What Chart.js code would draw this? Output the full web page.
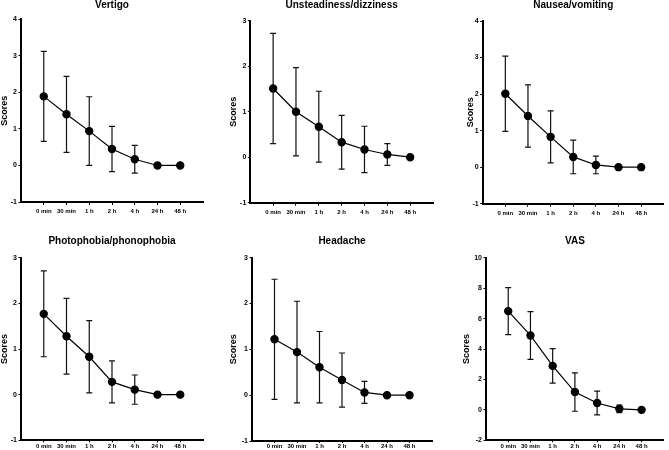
<!DOCTYPE html>
<html lang="en">
<head>
    <meta charset="UTF-8">
    <title>Symptom scores over time</title>
    <style>
        body { margin: 0; background: #fff; }
        #wrap { position: relative; width: 669px; height: 450px; overflow: hidden; background: #fff; }
        canvas { position: absolute; }
    </style>
    <script src="https://cdn.jsdelivr.net/npm/chart.js"></script>
</head>
<body>
<div id="wrap">
    <canvas id="c1"></canvas>
    <canvas id="c2"></canvas>
    <canvas id="c3"></canvas>
    <canvas id="c4"></canvas>
    <canvas id="c5"></canvas>
    <canvas id="c6"></canvas>
</div>

<script>
    // time points on the x axis
    const timeLabels = ['0 min', '30 min', '1 h', '2 h', '4 h', '24 h', '48 h'];

    // mean scores and SD
    const vertigoMean = [1.89, 1.40, 0.94, 0.45, 0.17, 0, 0];
    const vertigoSD = [1.23, 1.04, 0.94, 0.62, 0.38, 0, 0];

    const unsteadyMean = [1.51, 1.00, 0.67, 0.33, 0.17, 0.06, 0];
    const unsteadySD = [1.21, 0.97, 0.78, 0.59, 0.51, 0.24, 0];

    const nauseaMean = [2.01, 1.40, 0.83, 0.28, 0.06, 0, 0];
    const nauseaSD = [1.03, 0.85, 0.71, 0.46, 0.24, 0, 0];

    const photoMean = [1.77, 1.28, 0.83, 0.28, 0.11, 0, 0];
    const photoSD = [0.94, 0.83, 0.79, 0.46, 0.32, 0, 0];

    const headacheMean = [1.22, 0.94, 0.61, 0.33, 0.06, 0, 0];
    const headacheSD = [1.31, 1.11, 0.78, 0.59, 0.24, 0, 0];

    const vasMean = [6.49, 4.89, 2.89, 1.17, 0.45, 0.07, 0];
    const vasSD = [1.54, 1.57, 1.13, 1.26, 0.78, 0.25, 0];

    // y axis ranges [min, max, step]
    const yScores4 = [-1, 4, 1];
    const yScores3 = [-1, 3, 1];
    const yVas = [-2, 10, 2];

    const FONT = '"Liberation Sans", Arial, Helvetica, sans-serif';

    // layout of each panel: canvas box and wanted plot area (x0, y0, x1, y1)
    const panels = [
        { id: 'c1', title: 'Vertigo', mean: vertigoMean, sd: vertigoSD, y: yScores4,
          box: [0, 0, 223, 225], area: [21, 19.3, 203, 202], titleY: 4.8, xPad: 3, xTick: 3 },
        { id: 'c2', title: 'Unsteadiness/dizziness', mean: unsteadyMean, sd: unsteadySD, y: yScores3,
          box: [229, 0, 223, 225], area: [250.3, 20.7, 433, 202.7], titleY: 5, xPad: 3, xTick: 3 },
        { id: 'c3', title: 'Nausea/vomiting', mean: nauseaMean, sd: nauseaSD, y: yScores4,
          box: [466, 0, 203, 225], area: [482.7, 21, 666, 203.7], titleY: 5.3, xPad: 3, xTick: 3 },
        { id: 'c4', title: 'Photophobia/phonophobia', mean: photoMean, sd: photoSD, y: yScores3,
          box: [0, 225, 223, 225], area: [21, 257.7, 203, 440.3], titleY: 241.3, xPad: 0, xTick: 2 },
        { id: 'c5', title: 'Headache', mean: headacheMean, sd: headacheSD, y: yScores3,
          box: [229, 225, 223, 225], area: [252, 257.7, 432, 441], titleY: 241.3, xPad: 0, xTick: 2 },
        { id: 'c6', title: 'VAS', mean: vasMean, sd: vasSD, y: yVas,
          box: [462, 225, 207, 225], area: [486, 257.7, 666, 440.3], titleY: 241.3, xPad: 0, xTick: 2 }
    ];

    // draws mean ± SD whiskers under the points
    const errorBars = {
        id: 'errorBars',
        beforeDatasetsDraw(chart, args, opts) {
            const ctx = chart.ctx;
            const xs = chart.scales.x, ys = chart.scales.y;
            const pts = chart.data.datasets[0].data;
            ctx.save();
            ctx.strokeStyle = '#111';
            ctx.lineWidth = 1.2;
            pts.forEach((p, i) => {
                const sd = opts.sd[i];
                if (!sd) return;
                const x = xs.getPixelForValue(p.x);
                const top = ys.getPixelForValue(p.y + sd);
                const bot = ys.getPixelForValue(p.y - sd);
                ctx.beginPath();
                ctx.moveTo(x, top); ctx.lineTo(x, bot);
                ctx.moveTo(x - 3, top); ctx.lineTo(x + 3, top);
                ctx.moveTo(x - 3, bot); ctx.lineTo(x + 3, bot);
                ctx.stroke();
            });
            ctx.restore();
        }
    };

    function makePanel(p) {
        const [left, top, width, height] = p.box;
        const [x0, y0, x1, y1] = p.area;
        const canvas = document.getElementById(p.id);
        canvas.width = width;
        canvas.height = height;
        canvas.style.left = left + 'px';
        canvas.style.top = top + 'px';

        const titleTop = p.titleY - top - 5;
        const titleBottom = (y0 - top) - titleTop - 10;

        new Chart(canvas.getContext('2d'), {
            type: 'line',
            data: {
                datasets: [{
                    data: p.mean.map((v, i) => ({ x: i, y: v })),
                    borderColor: '#000',
                    borderWidth: 1.2,
                    pointRadius: 3.6,
                    pointBackgroundColor: '#000',
                    pointBorderColor: '#000',
                    tension: 0
                }]
            },
            plugins: [errorBars],
            options: {
                responsive: false,
                animation: false,
                devicePixelRatio: 1,
                layout: { padding: { left: 0, top: 0, bottom: 0, right: left + width - x1 } },
                plugins: {
                    legend: { display: false },
                    tooltip: { enabled: false },
                    title: {
                        display: true,
                        text: p.title,
                        color: '#000',
                        fullSize: false,
                        font: { family: FONT, size: 10, weight: 'bold', lineHeight: 1 },
                        padding: { top: titleTop, bottom: titleBottom }
                    },
                    errorBars: { sd: p.sd }
                },
                scales: {
                    x: {
                        type: 'linear',
                        min: -1,
                        max: 7,
                        afterBuildTicks: s => { s.ticks = timeLabels.map((_, i) => ({ value: i })); },
                        afterFit: s => { s.height = top + height - y1; },
                        grid: { drawOnChartArea: false, drawTicks: true, tickLength: p.xTick, color: '#000', lineWidth: 1 },
                        border: { color: '#000', width: 2 },
                        ticks: {
                            autoSkip: false,
                            maxRotation: 0,
                            minRotation: 0,
                            padding: p.xPad,
                            color: '#000',
                            font: { family: FONT, size: 6, weight: 'bold' },
                            callback: v => timeLabels[v] ?? ''
                        }
                    },
                    y: {
                        min: p.y[0],
                        max: p.y[1],
                        afterFit: s => { s.width = x0 - left; },
                        grid: { drawOnChartArea: false, drawTicks: true, tickLength: 2.5, color: '#000', lineWidth: 1 },
                        border: { color: '#000', width: 2 },
                        ticks: {
                            stepSize: p.y[2],
                            padding: 1.5,
                            color: '#000',
                            font: { family: FONT, size: 7, weight: 'bold' }
                        },
                        title: {
                            display: true,
                            text: 'Scores',
                            color: '#000',
                            padding: 0,
                            font: { family: FONT, size: 9, weight: 'bold', lineHeight: 1 }
                        }
                    }
                }
            }
        });
    }

    panels.forEach(makePanel);
</script>
</body>
</html>
